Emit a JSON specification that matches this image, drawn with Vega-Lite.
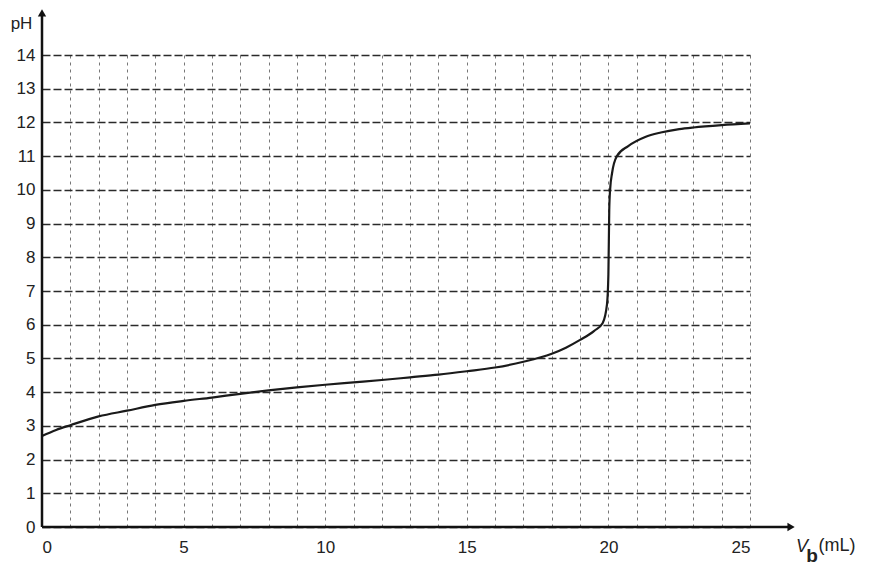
{
  "$schema": "https://vega.github.io/schema/vega-lite/v6.json",
  "width": 708,
  "height": 472,
  "autosize": {"type": "none"},
  "padding": {"left": 42, "top": 55, "right": 121, "bottom": 55},
  "background": "white",
  "config": {"view": {"stroke": null}, "font": "Liberation Sans"},
  "data": {
    "values": [
      {"Vb": 0, "pH": 2.7},
      {"Vb": 0.5, "pH": 2.88},
      {"Vb": 1, "pH": 3.02},
      {"Vb": 2, "pH": 3.28},
      {"Vb": 3, "pH": 3.45},
      {"Vb": 4, "pH": 3.62},
      {"Vb": 5, "pH": 3.74},
      {"Vb": 6, "pH": 3.84},
      {"Vb": 7, "pH": 3.95},
      {"Vb": 8, "pH": 4.05},
      {"Vb": 9, "pH": 4.14},
      {"Vb": 10, "pH": 4.22},
      {"Vb": 11, "pH": 4.29},
      {"Vb": 12, "pH": 4.36},
      {"Vb": 13, "pH": 4.44},
      {"Vb": 14, "pH": 4.52},
      {"Vb": 15, "pH": 4.62},
      {"Vb": 16, "pH": 4.73},
      {"Vb": 17, "pH": 4.9},
      {"Vb": 18, "pH": 5.14},
      {"Vb": 18.5, "pH": 5.32},
      {"Vb": 19, "pH": 5.55},
      {"Vb": 19.5, "pH": 5.82},
      {"Vb": 19.8, "pH": 6.05},
      {"Vb": 19.95, "pH": 6.6},
      {"Vb": 20.0, "pH": 7.5},
      {"Vb": 20.03, "pH": 9.4},
      {"Vb": 20.06, "pH": 10.0},
      {"Vb": 20.13, "pH": 10.5},
      {"Vb": 20.3, "pH": 11.0},
      {"Vb": 20.7, "pH": 11.3},
      {"Vb": 21.3, "pH": 11.57},
      {"Vb": 21.85, "pH": 11.7},
      {"Vb": 22.5, "pH": 11.8},
      {"Vb": 23, "pH": 11.85},
      {"Vb": 24, "pH": 11.92},
      {"Vb": 25, "pH": 11.97}
    ]
  },
  "encoding": {
    "x": {
      "field": "Vb",
      "type": "quantitative",
      "scale": {"domain": [0, 25], "nice": false, "zero": false},
      "axis": {
        "values": [0,1,2,3,4,5,6,7,8,9,10,11,12,13,14,15,16,17,18,19,20,21,22,23,24,25],
        "labelExpr": "datum.value % 5 === 0 ? datum.label : ''",
        "grid": true,
        "gridDash": [3, 4],
        "gridColor": "#777",
        "gridWidth": 1,
        "domain": false,
        "ticks": false,
        "tickSize": 0,
        "labelPadding": 12,
        "labelFontSize": 17,
        "labelColor": "#222",
        "labelFont": "Liberation Sans",
        "title": null
      }
    },
    "y": {
      "field": "pH",
      "type": "quantitative",
      "scale": {"domain": [0, 14], "nice": false},
      "axis": {
        "values": [0,1,2,3,4,5,6,7,8,9,10,11,12,13,14],
        "grid": true,
        "gridDash": [8, 3],
        "gridColor": "#2a2a2a",
        "gridWidth": 1.4,
        "domain": false,
        "ticks": false,
        "tickSize": 0,
        "labelPadding": 7,
        "labelFontSize": 17,
        "labelColor": "#222",
        "labelFont": "Liberation Sans",
        "title": "pH",
        "titleAngle": 0,
        "titleX": -21,
        "titleY": -27,
        "titleAlign": "center",
        "titleBaseline": "alphabetic",
        "titleFontSize": 17,
        "titleFontWeight": "normal",
        "titleColor": "#222",
        "titleFont": "Liberation Sans"
      }
    }
  },
  "layer": [
    {
      "mark": {"type": "line", "interpolate": "monotone", "color": "#1a1a1a", "strokeWidth": 2.2}
    },
    {
      "transform": [{"filter": "datum.Vb === 0"}],
      "mark": {"type": "rule", "color": "#111", "strokeWidth": 2.5, "clip": false},
      "encoding": {
        "x": {"datum": 0, "type": "quantitative"},
        "x2": {"datum": 26.4},
        "y": {"datum": 0, "type": "quantitative"}
      }
    },
    {
      "transform": [{"filter": "datum.Vb === 0"}],
      "mark": {"type": "rule", "color": "#111", "strokeWidth": 2.5, "clip": false},
      "encoding": {
        "x": {"datum": 0, "type": "quantitative"},
        "y": {"datum": 0, "type": "quantitative"},
        "y2": {"datum": 15.2}
      }
    },
    {
      "transform": [{"filter": "datum.Vb === 0"}],
      "mark": {"type": "point", "shape": "triangle-right", "filled": true, "color": "#111", "size": 70, "opacity": 1, "clip": false},
      "encoding": {
        "x": {"datum": 26.45, "type": "quantitative"},
        "y": {"datum": 0, "type": "quantitative"}
      }
    },
    {
      "transform": [{"filter": "datum.Vb === 0"}],
      "mark": {"type": "point", "shape": "triangle-up", "filled": true, "color": "#111", "size": 70, "opacity": 1, "clip": false},
      "encoding": {
        "x": {"datum": 0, "type": "quantitative"},
        "y": {"datum": 15.25, "type": "quantitative"}
      }
    },
    {
      "transform": [{"filter": "datum.Vb === 0"}],
      "mark": {"type": "text", "text": "V", "fontStyle": "italic", "fontSize": 18, "color": "#222", "align": "center", "baseline": "alphabetic", "clip": false, "font": "Liberation Sans"},
      "encoding": {
        "x": {"datum": 26.84, "type": "quantitative"},
        "y": {"datum": -0.74, "type": "quantitative"}
      }
    },
    {
      "transform": [{"filter": "datum.Vb === 0"}],
      "mark": {"type": "text", "text": "b", "fontWeight": "bold", "fontSize": 19, "color": "#222", "align": "center", "baseline": "alphabetic", "clip": false, "font": "Liberation Sans"},
      "encoding": {
        "x": {"datum": 27.19, "type": "quantitative"},
        "y": {"datum": -1.04, "type": "quantitative"}
      }
    },
    {
      "transform": [{"filter": "datum.Vb === 0"}],
      "mark": {"type": "text", "text": "(mL)", "fontSize": 18, "color": "#222", "align": "left", "baseline": "alphabetic", "clip": false, "font": "Liberation Sans"},
      "encoding": {
        "x": {"datum": 27.42, "type": "quantitative"},
        "y": {"datum": -0.7, "type": "quantitative"}
      }
    }
  ]
}
